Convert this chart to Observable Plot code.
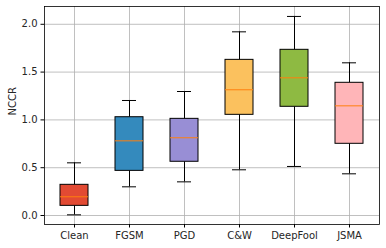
<!DOCTYPE html>
<html>
<head>
<meta charset="utf-8">
<script src="https://cdn.jsdelivr.net/npm/d3@7"></script>
<script src="https://cdn.jsdelivr.net/npm/@observablehq/plot@0.6"></script>
<style>
  html, body { margin: 0; padding: 0; background: #fff; }
  svg { display: block; }
</style>
</head>
<body>
<div id="chart"></div>
<script>
const categories = ["Clean", "FGSM", "PGD", "C&W", "DeepFool", "JSMA"];
const whiskerLow  = [0.007, 0.300, 0.352, 0.478, 0.513, 0.436];
const q1          = [0.101, 0.467, 0.562, 1.053, 1.137, 0.750];
const median      = [0.196, 0.781, 0.813, 1.315, 1.440, 1.147];
const q3          = [0.321, 1.028, 1.011, 1.628, 1.733, 1.388];
const whiskerHigh = [0.551, 1.203, 1.297, 1.921, 2.082, 1.597];
const boxColors   = ["#E24A33", "#348ABD", "#988ED5", "#FBC15E", "#8EBA42", "#FFB5B8"];
const yTicks      = [0.0, 0.5, 1.0, 1.5, 2.0];

const rows = categories.map((c, i) => ({
  cat: c, lo: whiskerLow[i], q1: q1[i], med: median[i], q3: q3[i], hi: whiskerHigh[i]
}));

const chart = Plot.plot({
  width: 386,
  height: 248,
  marginLeft: 44,
  marginRight: 7,
  marginTop: 6,
  marginBottom: 24,
  style: { fontFamily: "DejaVu Sans", fontSize: "10px", color: "#262626", background: "#fff" },
  x: { type: "band", domain: categories, paddingInner: 0.5, paddingOuter: 0.25, label: null },
  y: { domain: [-0.094, 2.186], label: null },
  color: { domain: categories, range: boxColors },
  marks: [
    Plot.gridX(categories, { stroke: "#b0b0b0", strokeOpacity: 1, strokeWidth: 0.8 }),
    Plot.gridY(yTicks, { stroke: "#b0b0b0", strokeOpacity: 1, strokeWidth: 0.8 }),
    Plot.axisX({ tickSize: 3.5, tickPadding: 3.5, label: null, stroke: "#000" }),
    Plot.axisY({ ticks: yTicks, tickFormat: d3.format(".1f"), tickSize: 3.5, tickPadding: 3.5, label: null, stroke: "#000" }),
    Plot.text(["NCCR"], { frameAnchor: "left", dx: -32, rotate: -90, fontSize: 10, fill: "#262626" }),
    Plot.ruleX(rows, { x: "cat", y1: "lo", y2: "q1", stroke: "#000", strokeWidth: 1 }),
    Plot.ruleX(rows, { x: "cat", y1: "q3", y2: "hi", stroke: "#000", strokeWidth: 1 }),
    Plot.tickY(rows, { x: "cat", y: "lo", stroke: "#000", strokeWidth: 1, insetLeft: 7, insetRight: 7 }),
    Plot.tickY(rows, { x: "cat", y: "hi", stroke: "#000", strokeWidth: 1, insetLeft: 7, insetRight: 7 }),
    Plot.barY(rows, { x: "cat", y1: "q1", y2: "q3", fill: "cat", stroke: "#000", strokeWidth: 1 }),
    Plot.tickY(rows, { x: "cat", y: "med", stroke: "#ff7f0e", strokeWidth: 1 }),
    Plot.frame({ stroke: "#000", strokeWidth: 0.8 })
  ]
});
document.getElementById("chart").appendChild(chart);
</script>
</body>
</html>
